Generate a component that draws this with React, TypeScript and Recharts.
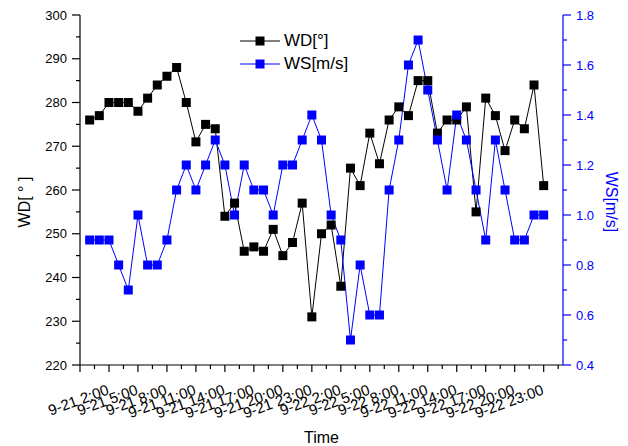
import { LineChart, Line, XAxis, YAxis, Legend, Label } from "recharts";

const FONT = "'Liberation Sans', Arial, Helvetica, sans-serif";
const BLUE = "#0000ff";

// hourly samples starting 9-21 0:00
const days = ["9-21", "9-22"];

const wdValues = [
  276, 277, 280, 280, 280, 278, 281, 284, 286, 288, 280, 271, 275, 274, 254, 257,
  246, 247, 246, 251, 245, 248, 257, 231, 250, 252, 238, 265, 261, 273, 266, 276,
  279, 277, 285, 285, 273, 276, 276, 279, 255, 281, 277, 269, 276, 274, 284, 261,
];

const wsValues = [
  0.9, 0.9, 0.9, 0.8, 0.7, 1.0, 0.8, 0.8, 0.9, 1.1, 1.2, 1.1, 1.2, 1.3, 1.2, 1.0,
  1.2, 1.1, 1.1, 1.0, 1.2, 1.2, 1.3, 1.4, 1.3, 1.0, 0.9, 0.5, 0.8, 0.6, 0.6, 1.1,
  1.3, 1.6, 1.7, 1.5, 1.3, 1.1, 1.4, 1.3, 1.1, 0.9, 1.3, 1.1, 0.9, 0.9, 1.0, 1.0,
];

const xMajor = [-1, 2, 5, 8, 11, 14, 17, 20, 23, 26, 29, 32, 35, 38, 41, 44, 47];
const xMinor = [0.5, 3.5, 6.5, 9.5, 12.5, 15.5, 18.5, 21.5, 24.5, 27.5, 30.5, 33.5, 36.5, 39.5, 42.5, 45.5, 48.5];
const xTicks = [...xMajor, ...xMinor].sort((a, b) => a - b);

const wdTicks = [220, 225, 230, 235, 240, 245, 250, 255, 260, 265, 270, 275, 280, 285, 290, 295, 300];
const wsTicks = [0.4, 0.5, 0.6, 0.7, 0.8, 0.9, 1.0, 1.1, 1.2, 1.3, 1.4, 1.5, 1.6, 1.7, 1.8];

const data = wdValues.map((wd, h) => ({ h, wd, ws: wsValues[h] }));

const timeLabel = (h: number) => `${days[Math.floor(h / 24)]} ${h % 24}:00`;

const BottomTick = ({ x, y, payload }: any) => {
  const v = payload.value;
  const major = xMajor.includes(v);
  const lx = x + 1;
  const ly = y + 29;
  return (
    <g>
      <line x1={x} y1={y} x2={x} y2={y + (major ? 7 : 4)} stroke="#000" strokeWidth={1.2} />
      {major && v >= 0 && (
        <text x={lx} y={ly} textAnchor="end" transform={`rotate(-20, ${lx}, ${ly})`}
          fontSize={15} fontFamily={FONT} fill="#000">
          {timeLabel(v)}
        </text>
      )}
    </g>
  );
};

const TopTick = ({ x, y, payload }: any) => {
  const major = xMajor.includes(payload.value);
  return <line x1={x} y1={y} x2={x} y2={y + (major ? 7 : 3.5)} stroke="#000" strokeWidth={1.2} />;
};

const LeftTick = ({ x, y, payload }: any) => {
  const v = payload.value;
  const major = v % 10 === 0;
  return (
    <g>
      <line x1={x} y1={y} x2={x - (major ? 8 : 4)} y2={y} stroke="#000" strokeWidth={1.2} />
      {major && (
        <text x={x - 13} y={y} dy="0.35em" textAnchor="end" fontSize={13} fontFamily={FONT} fill="#000">
          {v}
        </text>
      )}
    </g>
  );
};

const RightTick = ({ x, y, payload }: any) => {
  const v = payload.value;
  const major = Math.round(v * 10) % 2 === 0;
  return (
    <g>
      <line x1={x} y1={y} x2={x + (major ? 8 : 4)} y2={y} stroke={BLUE} strokeWidth={1.2} />
      {major && (
        <text x={x + 13} y={y} dy="0.35em" textAnchor="start" fontSize={13} fontFamily={FONT} fill={BLUE}>
          {v.toFixed(1)}
        </text>
      )}
    </g>
  );
};

const LeftTitle = ({ viewBox }: any) => {
  const cx = viewBox.x + 16;
  const cy = viewBox.y + viewBox.height / 2 + 12;
  return (
    <text x={cx} y={cy} transform={`rotate(-90, ${cx}, ${cy})`} textAnchor="middle" dy="0.35em"
      fontSize={16} fontFamily={FONT} fill="#000">
      WD[ ° ]
    </text>
  );
};

const RightTitle = ({ viewBox }: any) => {
  const cx = viewBox.x + 48.7;
  const cy = viewBox.y + viewBox.height / 2 + 12;
  return (
    <text x={cx} y={cy} transform={`rotate(90, ${cx}, ${cy})`} textAnchor="middle" dy="0.35em"
      fontSize={16} fontFamily={FONT} fill={BLUE}>
      WS[m/s]
    </text>
  );
};

const BottomTitle = ({ viewBox }: any) => (
  <text x={viewBox.x + viewBox.width / 2} y={viewBox.y + 78} textAnchor="middle"
    fontSize={16} fontFamily={FONT} fill="#000">
    Time
  </text>
);

const squareDot = (color: string) => (props: any) => {
  const { cx, cy, index } = props;
  if (cx == null || cy == null) return <g key={index} />;
  return <rect key={index} x={cx - 4.5} y={cy - 4.5} width={9} height={9} fill={color} />;
};

const LegendBox = ({ payload }: any) => (
  <div style={{ fontFamily: FONT, fontSize: 17 }}>
    {(payload || []).map((e: any) => (
      <div key={e.value} style={{ display: "flex", alignItems: "center", height: 23 }}>
        <svg width={44} height={18}>
          <line x1={0} y1={9} x2={40} y2={9} stroke={e.color} strokeWidth={1} />
          <rect x={15.5} y={4.5} width={9} height={9} fill={e.color} />
        </svg>
        <span style={{ color: "#000", lineHeight: "23px" }}>{e.value}</span>
      </div>
    ))}
  </div>
);

export default function App() {
  return (
    <LineChart width={620} height={438} data={data} margin={{ top: 7, right: 0, bottom: 0, left: 0 }}>
      <XAxis xAxisId="b" dataKey="h" type="number" domain={[-1, 49]} ticks={xTicks} interval={0}
        height={81} tickSize={0} tickMargin={0} tick={<BottomTick />} axisLine={{ stroke: "#000", strokeWidth: 1.2 }}>
        <Label content={<BottomTitle />} />
      </XAxis>
      <XAxis xAxisId="t" orientation="top" dataKey="h" type="number" domain={[-1, 49]} ticks={xTicks}
        interval={0} height={0} tickSize={0} tickMargin={0} tick={<TopTick />}
        axisLine={{ stroke: "#000", strokeWidth: 1.2 }} />
      <YAxis yAxisId="wd" type="number" domain={[220, 300]} ticks={wdTicks} interval={0} width={72}
        tickSize={0} tickMargin={0} tick={<LeftTick />} axisLine={{ stroke: "#000", strokeWidth: 1.2 }}>
        <Label content={<LeftTitle />} />
      </YAxis>
      <YAxis yAxisId="ws" orientation="right" type="number" domain={[0.4, 1.8]} ticks={wsTicks} interval={0}
        width={65} tickSize={0} tickMargin={0} tick={<RightTick />} axisLine={{ stroke: BLUE, strokeWidth: 1.2 }}>
        <Label content={<RightTitle />} />
      </YAxis>
      <Legend layout="vertical" align="center" verticalAlign="middle" content={<LegendBox />}
        wrapperStyle={{ left: 232, top: 21, width: "auto" }} />
      <Line xAxisId="b" yAxisId="wd" name="WD[°]" dataKey="wd" type="linear" stroke="#000" strokeWidth={1}
        dot={squareDot("#000")} activeDot={false} isAnimationActive={false} />
      <Line xAxisId="b" yAxisId="ws" name="WS[m/s]" dataKey="ws" type="linear" stroke={BLUE} strokeWidth={1}
        dot={squareDot(BLUE)} activeDot={false} isAnimationActive={false} />
    </LineChart>
  );
}
